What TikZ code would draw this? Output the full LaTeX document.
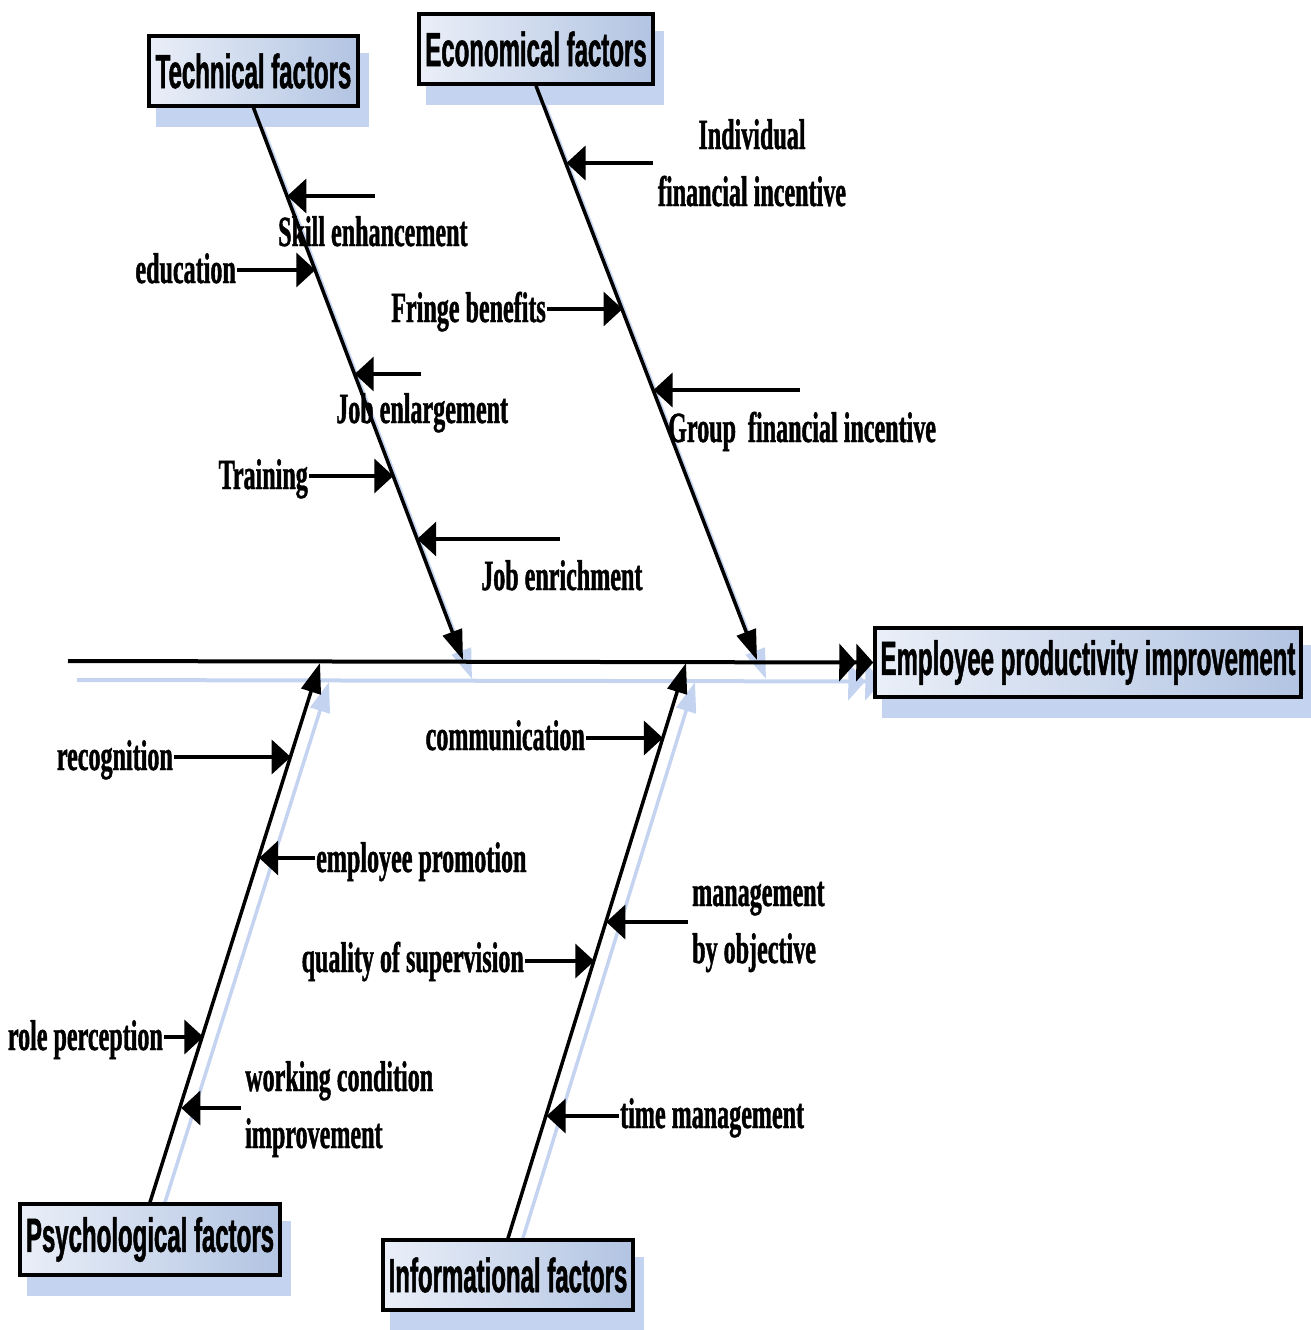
\documentclass[tikz,border=0pt]{standalone}
\usepackage{fontspec}
\setmainfont{Liberation Serif}[FakeStretch=0.56,FakeBold=1]
\newfontfamily\factorfont{Liberation Sans}[FakeStretch=0.5,FakeBold=1]
\usetikzlibrary{arrows.meta,backgrounds}

\definecolor{dropblue}{RGB}{196,212,240}
\definecolor{boxlight}{RGB}{234,239,248}
\definecolor{boxdark}{RGB}{178,196,226}

\tikzset{
  factor/.style={draw=black, line width=3.5pt, left color=boxlight, right color=boxdark,
    inner sep=2pt, font=\factorfont\bfseries\fontsize{48}{52}\selectfont},
  cause/.style={font=\bfseries\fontsize{43}{57}\selectfont, inner sep=1pt},
  rib/.style={line width=3.6pt, -{Triangle[length=19pt,width=34pt]}},
  bone/.style={line width=3.5pt, -{Triangle[length=30pt,width=20pt]}},
  spine/.style={line width=4pt,
    -{Triangle[length=17pt,width=37pt,sep=0pt]Triangle[length=17pt,width=37pt]}},
  drop/.style={draw=dropblue, fill=none},
}

\begin{document}
\begin{tikzpicture}[x=1pt,y=-1pt]
\useasboundingbox (0,0) rectangle (1310,1330);

% category boxes and the effect box
\node[factor, minimum width=209, minimum height=70] (tech)   at (253.5,71)    {Technical factors};
\node[factor, minimum width=234, minimum height=70] (econ)   at (536,49)      {Economical factors};
\node[factor, minimum width=426, minimum height=69] (effect) at (1088,662.5)  {Employee productivity improvement};
\node[factor, minimum width=260, minimum height=71] (psych)  at (150,1239.5)  {Psychological factors};
\node[factor, minimum width=250, minimum height=70] (info)   at (508,1275)    {Informational factors};

% spine and bone end points
\coordinate (spineL) at (68,661);
\coordinate (techT)  at (463,660);
\coordinate (econT)  at (757,660);
\coordinate (psyT)   at (320,663);
\coordinate (infT)   at (686,663);

% rib tips on the bones and free rib tails
\coordinate (skillT) at (287.3,196);  \coordinate (skillS) at (375,196);
\coordinate (eduT)   at (315.3,270);
\coordinate (enlT)   at (354.7,374);  \coordinate (enlS)   at (421,374);
\coordinate (trT)    at (393.3,476);
\coordinate (enrT)   at (417.2,539);  \coordinate (enrS)   at (560,539);
\coordinate (indT)   at (566.5,163);  \coordinate (indS)   at (653,163);
\coordinate (frT)    at (622.5,309);
\coordinate (grpT)   at (653.5,390);  \coordinate (grpS)   at (800,390);
\coordinate (recT)   at (290.7,757);
\coordinate (proT)   at (259.2,858);
\coordinate (roleT)  at (203.4,1037);
\coordinate (wcT)    at (181.3,1108); \coordinate (wcS)    at (241,1108);
\coordinate (comT)   at (662.9,738);
\coordinate (mboT)   at (606.3,922);  \coordinate (mboS)   at (688,922);
\coordinate (qosT)   at (594.3,961);
\coordinate (timT)   at (546.6,1116);

% cause labels (two-line labels are placed by their last baseline)
\node[cause, anchor=base west] (skill) at (277,246)  {Skill enhancement};
\node[cause, anchor=base east] (edu)   at (237,283)  {education};
\node[cause, anchor=base west] (enl)   at (335,423)  {Job enlargement};
\node[cause, anchor=base east] (tr)    at (309,489)  {Training};
\node[cause, anchor=base west] (enr)   at (480,590)  {Job enrichment};
\node[cause, align=center, anchor=base] (ind) at (752,206) {Individual\\financial incentive};
\node[cause, anchor=base east] (fr)    at (547,322)  {Fringe benefits};
\node[cause, anchor=base west] (grp)   at (667,442)  {Group~ financial incentive};
\node[cause, anchor=base east] (rec)   at (174,770)  {recognition};
\node[cause, anchor=base west] (pro)   at (315,872)  {employee promotion};
\node[cause, anchor=base east] (role)  at (164,1050) {role perception};
\node[cause, align=left, anchor=base west] (wc) at (244,1148) {working condition\\improvement};
\node[cause, anchor=base east] (com)   at (586,750)  {communication};
\node[cause, align=left, anchor=base west] (mbo) at (691,963) {management\\by objective};
\node[cause, anchor=base east] (qos)   at (525,972)  {quality of supervision};
\node[cause, anchor=base west] (tim)   at (619,1128) {time management};

% drop shadows
\begin{pgfonlayer}{background}
  \foreach \b in {tech,econ,effect,psych,info}
    \fill[dropblue] ([shift={(9,19)}]\b.south west) rectangle ([shift={(9,19)}]\b.north east);
  \draw[spine, drop] ([shift={(9,19)}]spineL) -- ([shift={(9,19)}]effect.west);
  \draw[bone, drop] ([shift={(9,19)}]tech.south)  -- ([shift={(9,19)}]techT);
  \draw[bone, drop] ([shift={(9,19)}]econ.south)  -- ([shift={(9,19)}]econT);
  \draw[bone, drop] ([shift={(9,19)}]psych.north) -- ([shift={(9,19)}]psyT);
  \draw[bone, drop] ([shift={(9,19)}]info.north)  -- ([shift={(9,19)}]infT);
\end{pgfonlayer}

% spine and main bones
\draw[spine] (spineL) -- (effect.west);
\draw[bone] (tech.south)  -- (techT);
\draw[bone] (econ.south)  -- (econT);
\draw[bone] (psych.north) -- (psyT);
\draw[bone] (info.north)  -- (infT);

% ribs
\draw[rib] (skillS) -- (skillT);
\draw[rib] (edu.east |- eduT) -- (eduT);
\draw[rib] (enlS) -- (enlT);
\draw[rib] (tr.east |- trT) -- (trT);
\draw[rib] (enrS) -- (enrT);
\draw[rib] (indS) -- (indT);
\draw[rib] (fr.east |- frT) -- (frT);
\draw[rib] (grpS) -- (grpT);
\draw[rib] (rec.east |- recT) -- (recT);
\draw[rib] (pro.west |- proT) -- (proT);
\draw[rib] (role.east |- roleT) -- (roleT);
\draw[rib] (wcS) -- (wcT);
\draw[rib] (com.east |- comT) -- (comT);
\draw[rib] (mboS) -- (mboT);
\draw[rib] (qos.east |- qosT) -- (qosT);
\draw[rib] (tim.west |- timT) -- (timT);
\end{tikzpicture}
\end{document}
